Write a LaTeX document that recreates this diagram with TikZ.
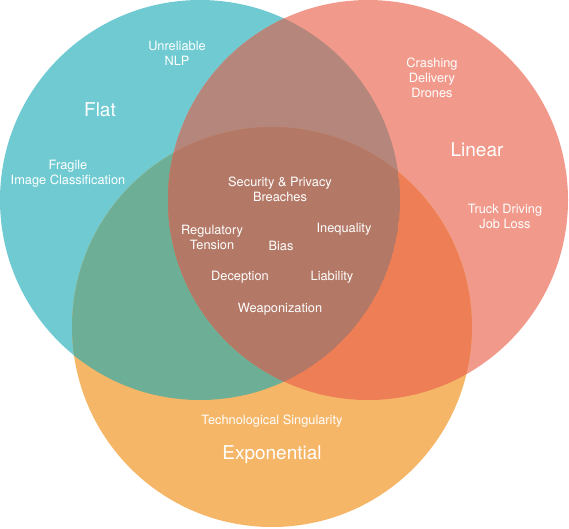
\documentclass[tikz,border=0pt]{standalone}
\usepackage{fontspec}
\setmainfont{TeX Gyre Heros}
\definecolor{cflat}{HTML}{6FCBD1}
\definecolor{clin}{HTML}{F19A8B}
\definecolor{cexp}{HTML}{F5B668}
\definecolor{cfl}{HTML}{B5877C}
\definecolor{cfe}{HTML}{6DAE97}
\definecolor{cle}{HTML}{EE7E55}
\definecolor{cfle}{HTML}{B37966}
\begin{document}
\begin{tikzpicture}[x=1pt,y=-1pt,
  lbl/.style={text=white,font=\fontsize{12.8}{15}\selectfont,align=center,inner sep=0pt},
  big/.style={text=white,font=\fontsize{19}{22}\selectfont,inner sep=0pt}]
\useasboundingbox (0,0) rectangle (569,528);
\coordinate (F) at (200,200);
\coordinate (L) at (368,200);
\coordinate (E) at (272,327);
\fill[cflat] (F) circle[radius=200pt];
\fill[clin] (L) circle[radius=200pt];
\fill[cexp] (E) circle[radius=200pt];
\begin{scope}
  \clip (F) circle[radius=200pt];
  \fill[cfl] (L) circle[radius=200pt];
  \fill[cfe] (E) circle[radius=200pt];
  \clip (L) circle[radius=200pt];
  \fill[cfle] (E) circle[radius=200pt];
\end{scope}
\begin{scope}
  \clip (L) circle[radius=200pt];
  \clip (E) circle[radius=200pt];
  \fill[cle] (L) circle[radius=200pt];
  \clip (F) circle[radius=200pt];
  \fill[cfle] (F) circle[radius=200pt];
\end{scope}
\node[lbl] (nlp) at (177,53) {Unreliable\\NLP};
\node[big] (flat) at (100,109.5) {Flat};
\node[lbl] (img) at (68,174) {Fragile\\Image Classification};
\node[lbl] (drones) at (432,77.5) {Crashing\\Delivery\\Drones};
\node[big] (linear) at (477,149.5) {Linear};
\node[lbl] (truck) at (505,216) {Truck Driving\\Job Loss};
\node[lbl] (sec) at (280,189.5) {Security \& Privacy\\Breaches};
\node[lbl] (reg) at (212,237) {Regulatory\\Tension};
\node[lbl] (bias) at (281,245.5) {Bias};
\node[lbl] (ineq) at (344,229.5) {Inequality};
\node[lbl] (dec) at (240,277.5) {Deception};
\node[lbl] (liab) at (332,277.5) {Liability};
\node[lbl] (weap) at (280,309.5) {Weaponization};
\node[lbl] (sing) at (272,421.5) {Technological Singularity};
\node[big] (exp) at (272,455) {Exponential};
\end{tikzpicture}
\end{document}
